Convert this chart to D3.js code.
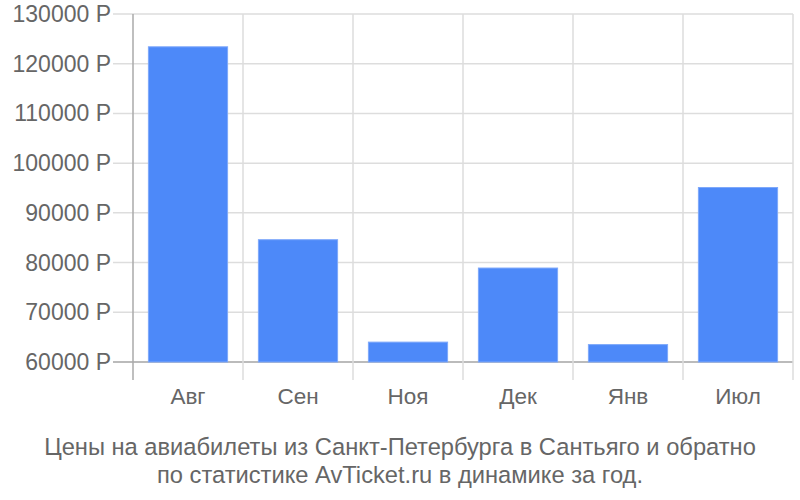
<!DOCTYPE html>
<html><head><meta charset="utf-8">
<script src="https://cdn.jsdelivr.net/npm/d3@7"></script>
<style>body{margin:0;background:#fff}text{font-family:"Liberation Sans",Arial,sans-serif}</style>
</head><body>
<script>
const categories = ["Авг","Сен","Ноя","Дек","Янв","Июл"];
const values = [123400, 84600, 64000, 78900, 63500, 95100];
const yTicks = [60000,70000,80000,90000,100000,110000,120000,130000];
const titleLines = ["Цены на авиабилеты из Санкт-Петербурга в Сантьяго и обратно","по статистике AvTicket.ru в динамике за год."];

const W=800,H=500;
const svg=d3.select("body").append("svg").attr("width",W).attr("height",H);
const x=d3.scaleBand().domain(categories).range([133,793]).paddingInner(0.28).paddingOuter(0.14);
const y=d3.scaleLinear().domain([60000,130000]).range([362,14]);

// horizontal grid
svg.append("g").selectAll("line").data(yTicks).join("line")
  .attr("x1",113).attr("x2",793).attr("y1",d=>y(d)).attr("y2",d=>y(d))
  .attr("stroke",d=>d===60000?"#bbb":"#ddd").attr("stroke-width",d=>d===60000?2:1.5);
// vertical grid
const bounds=categories.map((c,i)=>133+(i+1)*110);
svg.append("g").selectAll("line").data(bounds).join("line")
  .attr("x1",d=>d).attr("x2",d=>d).attr("y1",14).attr("y2",380)
  .attr("stroke","#ddd").attr("stroke-width",1.5);
// y axis line
svg.append("line").attr("x1",133).attr("x2",133).attr("y1",14).attr("y2",380).attr("stroke","#aaa").attr("stroke-width",1.5);
// bars
svg.append("g").selectAll("rect").data(values).join("rect")
  .attr("x",(d,i)=>x(categories[i])).attr("width",x.bandwidth())
  .attr("y",d=>y(d)).attr("height",d=>y(60000)-y(d))
  .attr("fill","#4d89f9").attr("stroke","#7ea8fa").attr("stroke-width",1);
// y labels
svg.append("g").selectAll("text").data(yTicks).join("text")
  .attr("x",111).attr("y",d=>y(d)).attr("dy","0.35em").attr("text-anchor","end")
  .attr("font-size",23).attr("fill","#666").text(d=>d+" Р");
// x labels
svg.append("g").selectAll("text").data(categories).join("text")
  .attr("x",d=>x(d)+x.bandwidth()/2).attr("y",404).attr("text-anchor","middle")
  .attr("font-size",22.5).attr("fill","#666").text(d=>d);
// title
svg.append("g").selectAll("text").data(titleLines).join("text")
  .attr("x",400).attr("y",(d,i)=>455+i*28).attr("text-anchor","middle")
  .attr("font-size",23.7).attr("fill","#666").text(d=>d);
</script>
</body></html>
